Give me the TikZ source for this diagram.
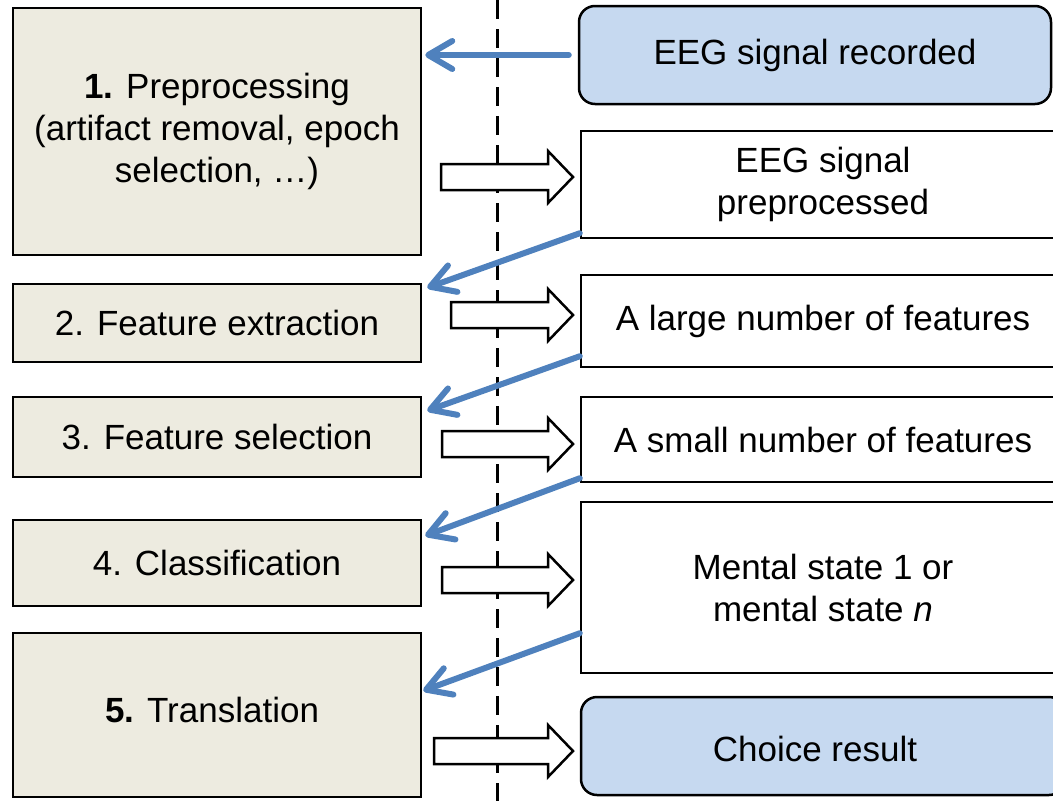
\documentclass[tikz,border=0pt]{standalone}
\usepackage{fontspec}
\setmainfont{Liberation Sans}
\usetikzlibrary{arrows.meta}

\definecolor{stagefill}{HTML}{EDEBE0}
\definecolor{endfill}{HTML}{C6D9F0}
\definecolor{flowblue}{HTML}{4F81BD}

\tikzset{
  stagebox/.style={draw, line width=2.5pt, fill=stagefill, align=center, inner sep=0pt, minimum width=408pt},
  databox/.style={draw, line width=2.5pt, fill=white, align=center, inner sep=0pt, minimum width=484pt},
  endbox/.style={databox, fill=endfill, rounded corners=16pt},
  backflow/.style={flowblue, line width=6pt, line cap=round, -{Straight Barb[length=24pt,width=28pt,round]}},
  fatarrow/.style={draw, line width=2.5pt, fill=white, line join=miter}
}

\begin{document}
\begin{tikzpicture}[x=1pt, y=-1pt, font=\fontsize{35}{42}\selectfont]
    \useasboundingbox (0,0) rectangle (1053,801);
    \clip (0,0) rectangle (1053,801);

    % Divider
    \draw[line width=3pt, dash pattern=on 19pt off 10pt] (497,0) -- (497,801);

    % Processing stages
    \node[stagebox, minimum height=247pt] (prep) at (217,131.5)
        {\textbf{1.} Preprocessing\\(artifact removal, epoch\\selection, \dots)};
    \node[stagebox, minimum height=78pt] (extr) at (217,323) {2. Feature extraction};
    \node[stagebox, minimum height=80pt] (sel) at (217,437) {3. Feature selection};
    \node[stagebox, minimum height=86pt] (cls) at (217,563) {4. Classification};
    \node[stagebox, minimum height=164pt] (trans) at (217,715) {};
    \node at (212,710) {\textbf{5.} Translation};

    % Data at each step
    \node[endbox, minimum width=472pt, minimum height=98pt] (rec) at (815,55) {EEG signal recorded};
    \node[databox, minimum height=107pt] (pre) at (823,184.5) {EEG signal\\preprocessed};
    \node[databox, minimum height=92pt] (large) at (823,321) {A large number of features};
    \node[databox, minimum height=85pt] (small) at (823,439.5) {A small number of features};
    \node[databox, minimum height=171pt] (ment) at (823,587.5) {Mental state 1 or\\mental state \textit{n}};
    \node[endbox, minimum height=98pt] (choice) at (823,746) {};
    \node at (815,749) {Choice result};

    % Stage output arrows
    \foreach \x/\y in {441/177, 451/315, 442/444, 442/580, 434/751}
    {
        \draw[fatarrow] (\x,\y-13) -- (548,\y-13) -- (548,\y-26) -- (573,\y)
            -- (548,\y+26) -- (548,\y+13) -- (\x,\y+13) -- cycle;
    }

    % Data fed to the next stage
    \draw[backflow] ([xshift=-9pt]rec.west) -- ([xshift=3pt]rec.west -| prep.east);
    \draw[backflow] ([yshift=6pt]pre.south west) -- ([xshift=5pt,yshift=-5pt]extr.north east);
    \draw[backflow] ([yshift=12pt]large.south west) -- ([xshift=5pt,yshift=-15pt]sel.north east);
    \draw[backflow] ([yshift=5pt]small.south west) -- ([xshift=3pt,yshift=-17pt]cls.north east);
    \draw[backflow] ([yshift=41pt]ment.south west) -- ([xshift=1pt,yshift=-59pt]trans.north east);
\end{tikzpicture}
\end{document}
